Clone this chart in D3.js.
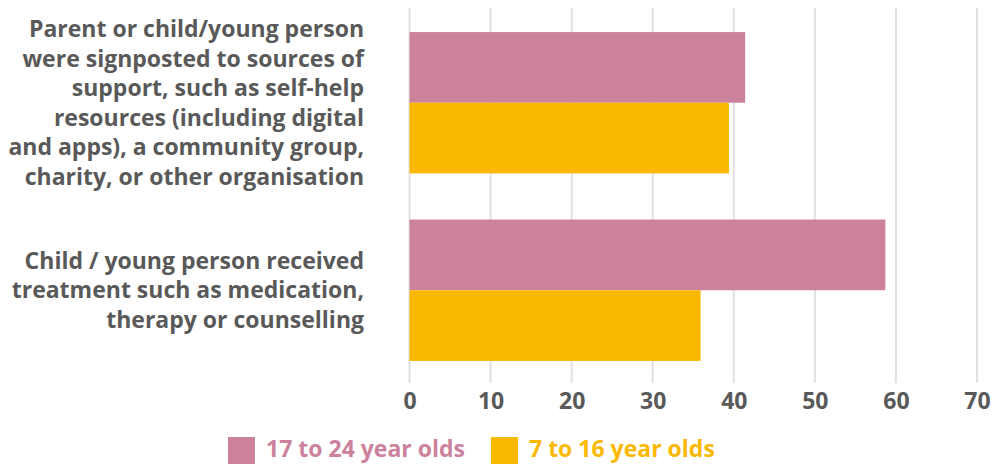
<!DOCTYPE html>
<html>
<head>
<meta charset="utf-8">
<script src="https://cdn.jsdelivr.net/npm/d3@7"></script>
<style>
  body { margin: 0; background: #fff; }
  svg text { font-family: "Open Sans", "Noto Sans", sans-serif; font-weight: 700; }
</style>
</head>
<body>
<div id="chart"></div>
<script>
// categories, each as its wrapped lines
const categories = [
  ["Parent or child/young person", "were signposted to sources of", "support, such as self-help",
   "resources (including digital", "and apps), a community group,", "charity, or other organisation"],
  ["Child / young person received", "treatment such as medication,", "therapy or counselling"]
];
const seriesNames = ["17 to 24 year olds", "7 to 16 year olds"];
const olderValues = [41.4, 58.7];
const youngerValues = [39.4, 35.9];
const tickValues = [0, 10, 20, 30, 40, 50, 60, 70];

const colors = ["#cc829c", "#fab800"];
const textColor = "#595959";

const width = 994, height = 466;
const plot = { left: 409.5, right: 977, top: 9, bottom: 384 };

const svg = d3.select("#chart").append("svg")
  .attr("width", width)
  .attr("height", height);

const x = d3.scaleLinear().domain([0, 70]).range([plot.left, plot.right]);

const y = d3.scaleBand()
  .domain(d3.range(categories.length))
  .range([plot.top, plot.bottom])
  .paddingInner(0.246)
  .paddingOuter(0.123);

const ySub = d3.scaleBand()
  .domain(d3.range(seriesNames.length))
  .range([0, y.bandwidth()]);

// gridlines
svg.append("g")
  .selectAll("line")
  .data(tickValues)
  .enter()
  .append("line")
  .attr("x1", d => x(d))
  .attr("x2", d => x(d))
  .attr("y1", plot.top - 1)
  .attr("y2", plot.bottom - 1)
  .attr("stroke", "#e0e0e0")
  .attr("stroke-width", 2);

// x axis labels
const xAxis = svg.append("g")
  .attr("transform", "translate(0," + plot.bottom + ")")
  .call(d3.axisBottom(x).tickValues(tickValues).tickSize(0).tickPadding(9));
xAxis.select(".domain").remove();
xAxis.selectAll("text")
  .attr("fill", textColor)
  .style("font-size", "23px");

// bars
const data = categories.map((c, i) => ({ i, values: [olderValues[i], youngerValues[i]] }));
svg.append("g")
  .selectAll("g")
  .data(data)
  .enter()
  .append("g")
  .attr("transform", d => "translate(0," + y(d.i) + ")")
  .selectAll("rect")
  .data(d => d.values.map((v, s) => ({ v, s })))
  .enter()
  .append("rect")
  .attr("x", x(0))
  .attr("y", d => ySub(d.s))
  .attr("width", d => x(d.v) - x(0))
  .attr("height", ySub.bandwidth())
  .attr("fill", d => colors[d.s]);

// category labels
const lineHeight = 29.5;
svg.append("g")
  .selectAll("text")
  .data(categories)
  .enter()
  .append("text")
  .attr("text-anchor", "end")
  .attr("fill", textColor)
  .style("font-size", "23px")
  .each(function (lines, i) {
    const cy = y(i) + y.bandwidth() / 2;
    const y0 = cy - (lines.length - 1) * lineHeight / 2;
    d3.select(this).selectAll("tspan")
      .data(lines)
      .enter()
      .append("tspan")
      .attr("x", 364)
      .attr("y", (l, k) => y0 + k * lineHeight)
      .attr("dy", "0.35em")
      .text(l => l);
  });

// legend
const legendX = [228, 491];
const legend = svg.append("g")
  .selectAll("g")
  .data(seriesNames)
  .enter()
  .append("g")
  .attr("transform", (d, i) => "translate(" + legendX[i] + ",437)");
legend.append("rect")
  .attr("width", 27)
  .attr("height", 27)
  .attr("fill", (d, i) => colors[i]);
legend.append("text")
  .attr("x", 38)
  .attr("y", 13.5)
  .attr("dy", "0.3em")
  .attr("fill", (d, i) => colors[i])
  .style("font-size", "23px")
  .text(d => d);
</script>
</body>
</html>
